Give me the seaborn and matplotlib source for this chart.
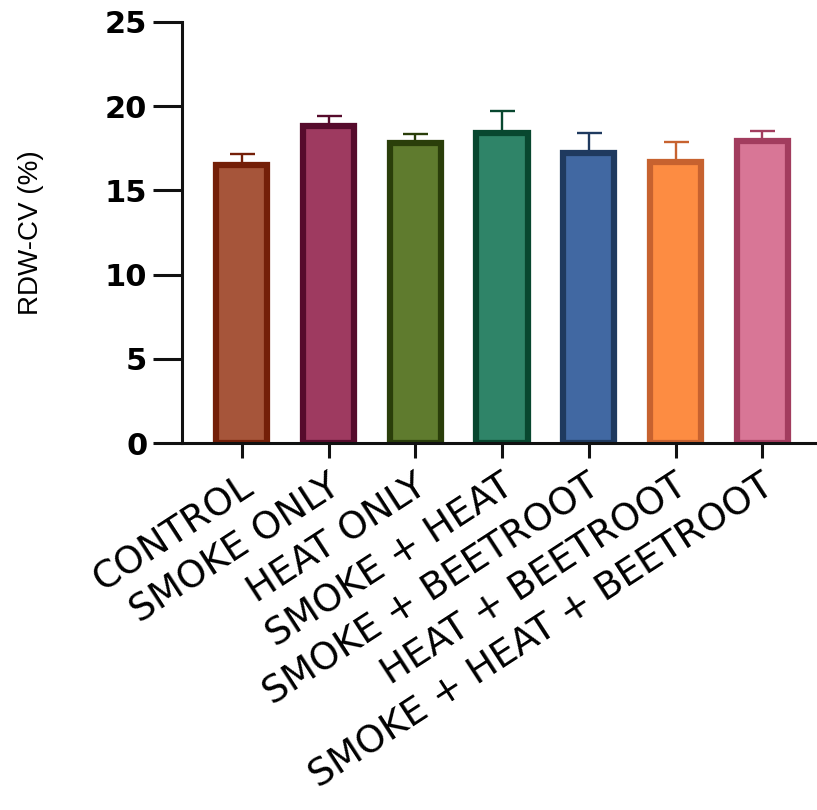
import numpy as np
import pandas as pd
import matplotlib
matplotlib.use("Agg")
import matplotlib.pyplot as plt
import matplotlib.transforms as mtransforms
import seaborn as sns

# Data
groups = ["CONTROL", "SMOKE ONLY", "HEAT ONLY", "SMOKE + HEAT",
          "SMOKE + BEETROOT", "HEAT + BEETROOT", "SMOKE + HEAT + BEETROOT"]
rdw_mean = [16.5, 18.8, 17.8, 18.4, 17.2, 16.7, 17.9]
rdw_err = [0.65, 0.6, 0.55, 1.3, 1.2, 1.15, 0.6]

fill_colors = ["#A6553A", "#9E3A60", "#5F7B2E", "#2F8468",
               "#4168A2", "#FD8C42", "#D87696"]
edge_colors = ["#741F08", "#560B2C", "#2A3E0A", "#08472F",
               "#1F3A5F", "#C7622F", "#A23C5E"]

df = pd.DataFrame({"Group": groups, "RDW": rdw_mean})

sns.set_style("ticks")
plt.rcParams["font.family"] = ["DejaVu Sans"]
plt.rcParams["text.color"] = "black"
plt.rcParams["xtick.color"] = "black"
plt.rcParams["ytick.color"] = "black"
plt.rcParams["axes.labelcolor"] = "black"

fig = plt.figure(figsize=(8.17, 8.10), dpi=100)
ax = fig.add_axes([0.2228, 0.453, 0.775, 0.52])

sns.barplot(data=df, x="Group", y="RDW", hue="Group", palette=fill_colors,
            legend=False, width=0.59, errorbar=None, saturation=1, ax=ax)

for patch, ec in zip(ax.patches, edge_colors):
    patch.set_edgecolor(ec)
    patch.set_linewidth(4.5)

# upper error bars only, in a dark tone of each bar
for i, (m, e, ec) in enumerate(zip(rdw_mean, rdw_err, edge_colors)):
    ax.errorbar(i, m, yerr=[[0], [e]], fmt="none", ecolor=ec,
                elinewidth=1.7, capsize=9, capthick=1.7, zorder=1)

x = np.arange(len(groups))
ax.set_ylim(0, 25)
ax.set_xlim(-0.69, 6.61)
ax.set_yticks([0, 5, 10, 15, 20, 25])
ax.set_xlabel("")
ax.set_ylabel("RDW-CV (%)", family=["Liberation Sans"], fontsize=20, labelpad=44)

sns.despine(ax=ax)
for s in ["left", "bottom"]:
    ax.spines[s].set_linewidth(2.2)
    ax.spines[s].set_color("#111111")

ax.tick_params(axis="y", direction="out", length=21, width=2.2, color="#111111", pad=4)
ax.tick_params(axis="x", direction="out", length=11, width=2.2, color="#111111", pad=18)
for lab in ax.get_yticklabels():
    lab.set_fontweight("bold")
    lab.set_fontsize(22)

ax.set_xticks(x)
ax.set_xticklabels(groups, rotation=33, ha="right", va="center",
                   rotation_mode="anchor", fontsize=27)
shift = mtransforms.ScaledTranslation(6 / 72, 0, fig.dpi_scale_trans)
for lab in ax.get_xticklabels():
    lab.set_transform(lab.get_transform() + shift)

fig.savefig("out.png", dpi=100)
